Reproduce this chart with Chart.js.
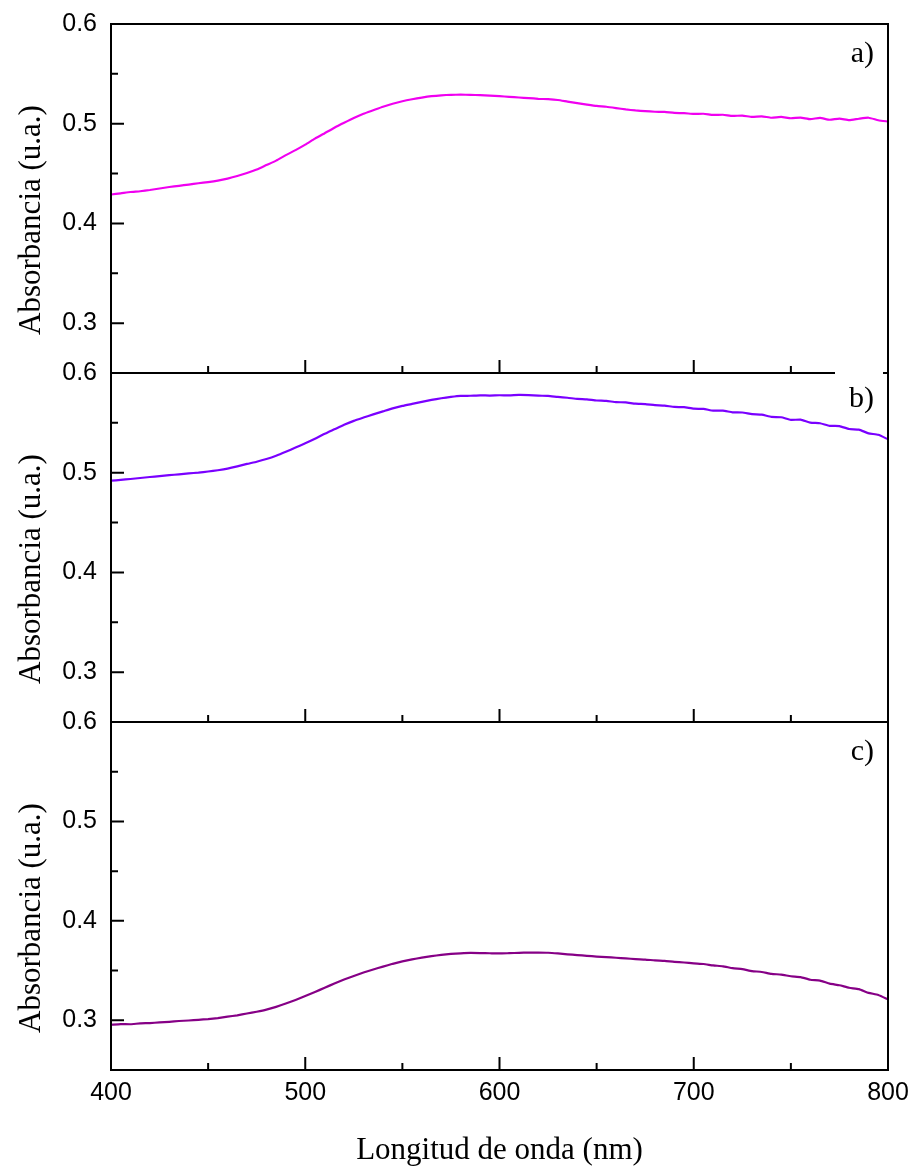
<!DOCTYPE html>
<html><head><meta charset="utf-8">
<script src="https://cdn.jsdelivr.net/npm/chart.js@4.4.1/dist/chart.umd.min.js"></script>
<style>
html,body{margin:0;padding:0;background:#fff;}
#wrap{position:relative;width:917px;height:1175px;overflow:hidden;background:#fff;}
canvas{position:absolute;left:0;}
</style></head><body>
<div id="wrap">
<canvas id="cA" width="917" height="407" style="top:-5px"></canvas>
<canvas id="cB" width="917" height="407" style="top:344px"></canvas>
<canvas id="cC" width="917" height="482" style="top:693px"></canvas>
</div>
<script>
// ---------- data ----------
const wavelengths = [400,405,410,415,420,425,430,435,440,445,450,455,460,465,470,475,480,485,490,495,
500,505,510,515,520,525,530,535,540,545,550,555,560,565,570,575,580,585,590,595,
600,605,610,615,620,625,630,635,640,645,650,655,660,665,670,675,680,685,690,695,
700,705,710,715,720,725,730,735,740,745,750,755,760,765,770,775,780,785,790,795,800];

const absorbanceA = [0.4290,0.4302,0.4315,0.4323,0.4335,0.4350,0.4365,0.4377,0.4390,0.4403,
0.4415,0.4430,0.4450,0.4475,0.4505,0.4540,0.4585,0.4630,0.4685,0.4735,
0.4790,0.4850,0.4905,0.4960,0.5010,0.5058,0.5100,0.5135,0.5170,0.5200,
0.5225,0.5245,0.5262,0.5276,0.5285,0.5290,0.5291,0.5290,0.5286,0.5281,
0.5276,0.5270,0.5263,0.5257,0.5250,0.5246,0.5238,0.5222,0.5207,0.5192,
0.5178,0.5170,0.5157,0.5143,0.5133,0.5126,0.5120,0.5118,0.5108,0.5106,
0.5098,0.5100,0.5088,0.5090,0.5078,0.5082,0.5068,0.5074,0.5060,0.5068,
0.5055,0.5062,0.5046,0.5058,0.5040,0.5052,0.5036,0.5050,0.5060,0.5035,0.5022];

const absorbanceB = [0.4920,0.4928,0.4937,0.4947,0.4957,0.4966,0.4975,0.4984,0.4993,0.5001,
0.5012,0.5025,0.5041,0.5063,0.5088,0.5110,0.5137,0.5170,0.5210,0.5253,
0.5295,0.5340,0.5390,0.5435,0.5480,0.5520,0.5553,0.5585,0.5615,0.5645,
0.5670,0.5690,0.5710,0.5730,0.5747,0.5760,0.5770,0.5772,0.5776,0.5774,
0.5777,0.5776,0.5781,0.5779,0.5773,0.5770,0.5760,0.5752,0.5740,0.5735,
0.5724,0.5720,0.5708,0.5705,0.5692,0.5688,0.5678,0.5673,0.5660,0.5657,
0.5642,0.5640,0.5622,0.5623,0.5606,0.5604,0.5588,0.5582,0.5560,0.5556,
0.5530,0.5532,0.5503,0.5496,0.5470,0.5468,0.5438,0.5432,0.5395,0.5380,0.5335];

const absorbanceC = [0.2955,0.2962,0.2960,0.2969,0.2972,0.2979,0.2985,0.2993,0.2998,0.3005,
0.3012,0.3022,0.3036,0.3050,0.3068,0.3086,0.3107,0.3135,0.3168,0.3205,
0.3245,0.3285,0.3327,0.3370,0.3410,0.3446,0.3480,0.3511,0.3540,0.3568,
0.3592,0.3612,0.3630,0.3645,0.3658,0.3667,0.3673,0.3677,0.3676,0.3674,
0.3672,0.3675,0.3678,0.3681,0.3681,0.3679,0.3672,0.3663,0.3656,0.3648,
0.3641,0.3636,0.3629,0.3623,0.3615,0.3611,0.3602,0.3597,0.3587,0.3581,
0.3572,0.3566,0.3552,0.3543,0.3524,0.3514,0.3495,0.3486,0.3466,0.3460,
0.3443,0.3434,0.3408,0.3399,0.3369,0.3352,0.3327,0.3313,0.3276,0.3255,0.3210];

const yTickValues = [0.3, 0.4, 0.5, 0.6];
const yMinorTicks = [0.35, 0.45, 0.55];
const xTickValues = [400, 500, 600, 700, 800];
const xMinorTicks = [450, 550, 650, 750];
const panelLabels = ['a)', 'b)', 'c)'];
const yTitleText = 'Absorbancia (u.a.)';
const xTitleText = 'Longitud de onda (nm)';

// ---------- styles ----------
const SANS = '"Liberation Sans", Arial, sans-serif';
const SERIF = '"Liberation Serif", "Times New Roman", serif';
const panels = [
  {id:'cA', canvasTop:-5, values:absorbanceA, color:'#f000f0', label:panelLabels[0], padTop:24, padBottom:20, xH:0, showX:false, labelDy:38, whiteBox:false},
  {id:'cB', canvasTop:344, values:absorbanceB, color:'#7a00ff', label:panelLabels[1], padTop:24, padBottom:20, xH:0, showX:false, labelDy:34, whiteBox:true},
  {id:'cC', canvasTop:693, values:absorbanceC, color:'#860086', label:panelLabels[2], padTop:24, padBottom:0, xH:105, showX:true, labelDy:38, whiteBox:false}
];

function decor(p){
  return {
    id:'decor',
    afterDraw(chart){
      const ctx = chart.ctx;
      const a = chart.chartArea;
      const xs = chart.scales.x, ys = chart.scales.y;
      ctx.save();
      ctx.strokeStyle = '#000';
      ctx.fillStyle = '#000';
      ctx.lineWidth = 2;
      ctx.lineCap = 'butt';
      // inward ticks
      ctx.beginPath();
      xTickValues.forEach(v => { const x = xs.getPixelForValue(v); ctx.moveTo(x, a.bottom); ctx.lineTo(x, a.bottom - 13); });
      xMinorTicks.forEach(v => { const x = xs.getPixelForValue(v); ctx.moveTo(x, a.bottom); ctx.lineTo(x, a.bottom - 7); });
      yTickValues.forEach(v => { const y = ys.getPixelForValue(v); ctx.moveTo(a.left, y); ctx.lineTo(a.left + 13, y); });
      yMinorTicks.forEach(v => { const y = ys.getPixelForValue(v); ctx.moveTo(a.left, y); ctx.lineTo(a.left + 7, y); });
      ctx.stroke();
      // frame
      ctx.strokeRect(a.left, a.top, a.right - a.left, a.bottom - a.top);
      // panel label
      if (p.whiteBox) { ctx.fillStyle = '#fff'; ctx.fillRect(835, a.top - 4, 48, 8); ctx.fillStyle = '#000'; }
      ctx.font = '30px ' + SERIF;
      ctx.textAlign = 'right';
      ctx.textBaseline = 'alphabetic';
      ctx.fillText(p.label, 874, a.top + p.labelDy);
      // y title
      ctx.save();
      ctx.translate(40, a.top + 196);
      ctx.rotate(-Math.PI / 2);
      ctx.font = '31px ' + SERIF;
      ctx.textAlign = 'center';
      ctx.fillText(yTitleText, 0, 0);
      ctx.restore();
      // x title
      if (p.showX) {
        ctx.font = '31px ' + SERIF;
        ctx.textAlign = 'center';
        ctx.fillText(xTitleText, (a.left + a.right) / 2, 1159 - p.canvasTop);
      }
      ctx.restore();
    }
  };
}

panels.forEach(p => {
  new Chart(document.getElementById(p.id), {
    type: 'line',
    data: {
      datasets: [{
        data: wavelengths.map((w, i) => ({x: w, y: p.values[i]})),
        borderColor: p.color,
        borderWidth: 2.2,
        pointRadius: 0,
        tension: 0.15,
        fill: false
      }]
    },
    options: {
      responsive: false,
      animation: false,
      events: [],
      layout: {padding: {left: 0, right: 29, top: p.padTop, bottom: p.padBottom}},
      plugins: {legend: {display: false}, tooltip: {enabled: false}, title: {display: false}},
      scales: {
        x: {
          type: 'linear', min: 400, max: 800,
          grid: {display: false, drawTicks: false},
          border: {display: false},
          ticks: {display: p.showX, color: '#000', font: {family: SANS, size: 25}, padding: 8, maxRotation: 0, autoSkip: false},
          afterBuildTicks: s => { s.ticks = xTickValues.map(v => ({value: v})); },
          afterFit: s => { s.height = p.xH; }
        },
        y: {
          type: 'linear', min: 0.25, max: 0.6,
          grid: {display: false, drawTicks: false},
          border: {display: false},
          ticks: {color: '#000', font: {family: SANS, size: 25}, padding: 14, autoSkip: false},
          afterBuildTicks: s => { s.ticks = yTickValues.map(v => ({value: v})); },
          afterFit: s => { s.width = 111; }
        }
      }
    },
    plugins: [decor(p)]
  });
});
</script>
</body></html>
